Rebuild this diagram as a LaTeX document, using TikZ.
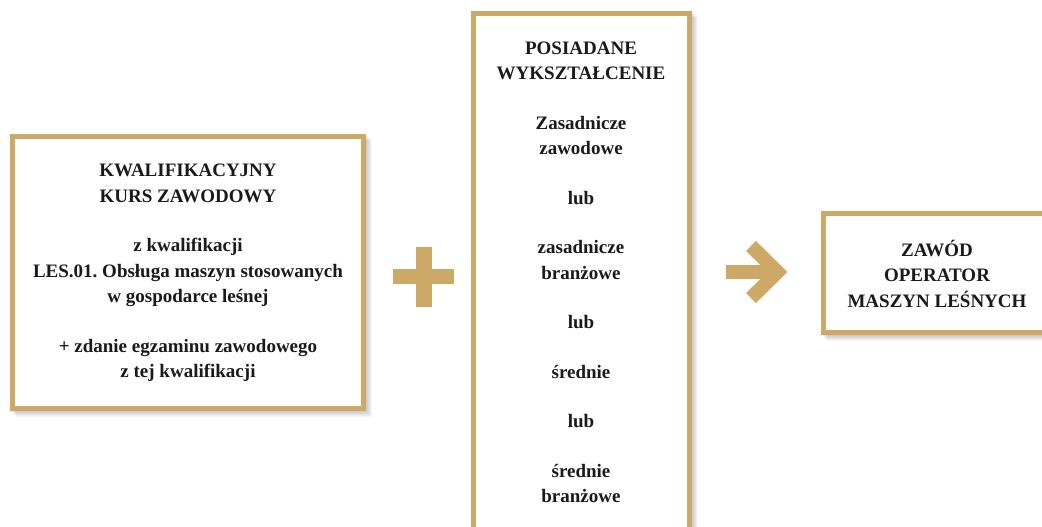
\documentclass[tikz,border=0pt]{standalone}
\usepackage{fontspec}
\setmainfont{Liberation Serif}
\definecolor{gold}{HTML}{CDA968}
\definecolor{ink}{HTML}{1A1A1A}
\tikzset{
  box/.style={draw=gold, line width=5pt, fill=white, inner sep=0pt, outer sep=0pt},
  txt/.style={font=\bfseries\fontsize{19}{25.5}\selectfont, align=center, text=ink, inner sep=0pt},
  shade/.style={fill=black, opacity=0.035},
  sym/.style={fill=gold}
}
\begin{document}
\frenchspacing
\begin{tikzpicture}[x=1pt,y=-1pt]
\useasboundingbox (0,0) rectangle (1042,527);
\clip (0,0) rectangle (1042,527);
\fill[white] (0,0) rectangle (1042,527);
% shadows
\foreach \d in {1,2,3,4,5,6}{
  \fill[shade] (10+\d,134+\d) rectangle (366+\d,411+\d);
  \fill[shade] (471+\d,11+\d) rectangle (692+\d,560);
  \fill[shade] (821+\d,211+\d) rectangle (1060,335+\d);
}
% boxes
\node[box, minimum width=351pt, minimum height=272pt] (kurs) at (188,272.5) {};
\node[box, minimum width=216pt, minimum height=546.5pt] (wyk) at (581.5,286.75) {};
\node[box, minimum width=236.5pt, minimum height=119pt] (zawod) at (941.75,273) {};
% texts
\node[txt] (kursT) at (188,273) {KWALIFIKACYJNY\\KURS ZAWODOWY\\[24pt]z kwalifikacji\\LES.01. Obsługa maszyn stosowanych\\w gospodarce leśnej\\[24pt]+ zdanie egzaminu zawodowego\\z tej kwalifikacji};
\node[txt] (wykT) at (581,272.5) {POSIADANE\\WYKSZTAŁCENIE\\[24pt]Zasadnicze\\zawodowe\\[24pt]lub\\[24pt]zasadnicze\\branżowe\\[24pt]lub\\[24pt]średnie\\[24pt]lub\\[24pt]średnie\\branżowe};
\node[txt] (zawodT) at (937,273.5) {ZAWÓD\\OPERATOR\\MASZYN LEŚNYCH};
% plus sign
\coordinate (plus) at (424,277);
\fill[sym] (416,247) rectangle (432,307);
\fill[sym] (393,269) rectangle (454,284);
% arrow sign
\coordinate (arr) at (756,272);
\fill[sym] (726,265) rectangle (775,279);
\draw[gold, line width=14pt, miter limit=10] (751,246) -- (777.5,272) -- (751,298);
\end{tikzpicture}
\end{document}
